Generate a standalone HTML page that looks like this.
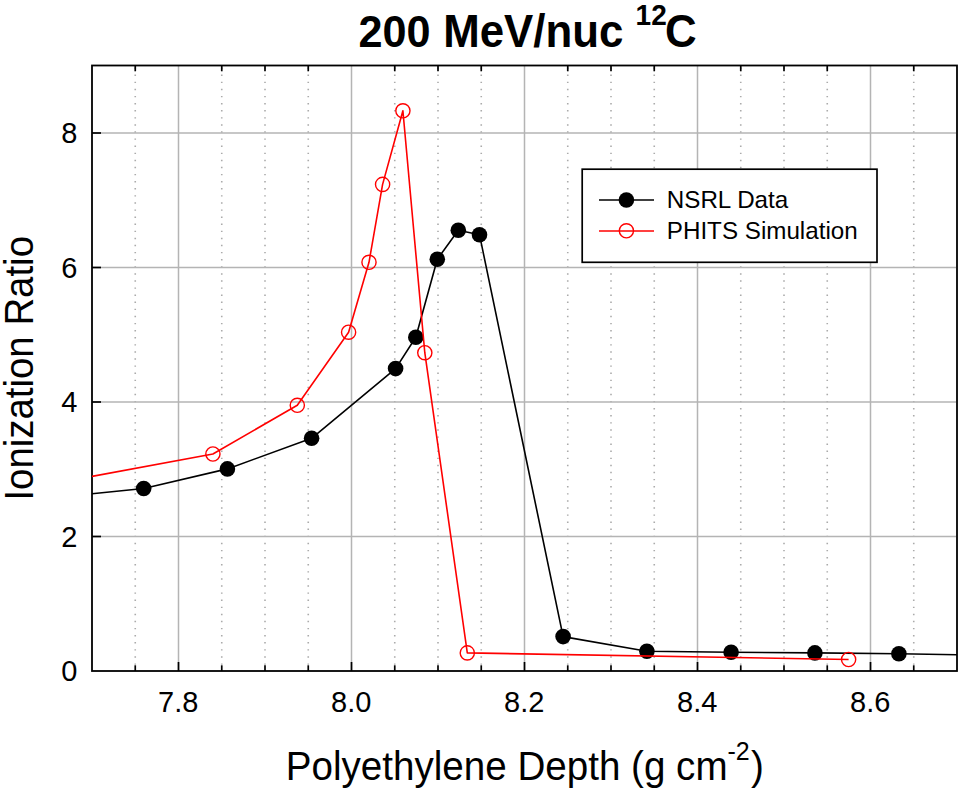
<!DOCTYPE html>
<html><head><meta charset="utf-8"><title>200 MeV/nuc 12C</title>
<style>
html,body{margin:0;padding:0;background:#fff;}
body{width:962px;height:792px;overflow:hidden;}
svg{display:block;}
text{font-family:"Liberation Sans",sans-serif;fill:#000;}
</style></head><body>
<svg width="962" height="792" viewBox="0 0 962 792">
<rect x="0" y="0" width="962" height="792" fill="#fff"/>

<g stroke="#ababab" stroke-width="1.6" stroke-dasharray="1.400 5.694" stroke-dashoffset="-2.006">
<line x1="135.25" y1="65.50" x2="135.25" y2="670"/>
<line x1="221.75" y1="65.50" x2="221.75" y2="670"/>
<line x1="265.00" y1="65.50" x2="265.00" y2="670"/>
<line x1="308.25" y1="65.50" x2="308.25" y2="670"/>
<line x1="394.75" y1="65.50" x2="394.75" y2="670"/>
<line x1="438.00" y1="65.50" x2="438.00" y2="670"/>
<line x1="481.25" y1="65.50" x2="481.25" y2="670"/>
<line x1="567.75" y1="65.50" x2="567.75" y2="670"/>
<line x1="611.00" y1="65.50" x2="611.00" y2="670"/>
<line x1="654.25" y1="65.50" x2="654.25" y2="670"/>
<line x1="740.75" y1="65.50" x2="740.75" y2="670"/>
<line x1="784.00" y1="65.50" x2="784.00" y2="670"/>
<line x1="827.25" y1="65.50" x2="827.25" y2="670"/>
<line x1="913.75" y1="65.50" x2="913.75" y2="670"/>
</g>
<g stroke="#b4b4b4" stroke-width="1.5">
<line x1="178.50" y1="66" x2="178.50" y2="670"/>
<line x1="351.50" y1="66" x2="351.50" y2="670"/>
<line x1="524.50" y1="66" x2="524.50" y2="670"/>
<line x1="697.50" y1="66" x2="697.50" y2="670"/>
<line x1="870.50" y1="66" x2="870.50" y2="670"/>
<line x1="93" y1="536.50" x2="956" y2="536.50"/>
<line x1="93" y1="402.00" x2="956" y2="402.00"/>
<line x1="93" y1="267.50" x2="956" y2="267.50"/>
<line x1="93" y1="133.00" x2="956" y2="133.00"/>
</g>
<g stroke="#000" stroke-width="1.7">
<line x1="178.50" y1="671" x2="178.50" y2="662"/>
<line x1="351.50" y1="671" x2="351.50" y2="662"/>
<line x1="524.50" y1="671" x2="524.50" y2="662"/>
<line x1="697.50" y1="671" x2="697.50" y2="662"/>
<line x1="870.50" y1="671" x2="870.50" y2="662"/>
<line x1="135.25" y1="671" x2="135.25" y2="665.3"/>
<line x1="135.25" y1="65.50" x2="135.25" y2="71.3"/>
<line x1="221.75" y1="671" x2="221.75" y2="665.3"/>
<line x1="221.75" y1="65.50" x2="221.75" y2="71.3"/>
<line x1="265.00" y1="671" x2="265.00" y2="665.3"/>
<line x1="265.00" y1="65.50" x2="265.00" y2="71.3"/>
<line x1="308.25" y1="671" x2="308.25" y2="665.3"/>
<line x1="308.25" y1="65.50" x2="308.25" y2="71.3"/>
<line x1="394.75" y1="671" x2="394.75" y2="665.3"/>
<line x1="394.75" y1="65.50" x2="394.75" y2="71.3"/>
<line x1="438.00" y1="671" x2="438.00" y2="665.3"/>
<line x1="438.00" y1="65.50" x2="438.00" y2="71.3"/>
<line x1="481.25" y1="671" x2="481.25" y2="665.3"/>
<line x1="481.25" y1="65.50" x2="481.25" y2="71.3"/>
<line x1="567.75" y1="671" x2="567.75" y2="665.3"/>
<line x1="567.75" y1="65.50" x2="567.75" y2="71.3"/>
<line x1="611.00" y1="671" x2="611.00" y2="665.3"/>
<line x1="611.00" y1="65.50" x2="611.00" y2="71.3"/>
<line x1="654.25" y1="671" x2="654.25" y2="665.3"/>
<line x1="654.25" y1="65.50" x2="654.25" y2="71.3"/>
<line x1="740.75" y1="671" x2="740.75" y2="665.3"/>
<line x1="740.75" y1="65.50" x2="740.75" y2="71.3"/>
<line x1="784.00" y1="671" x2="784.00" y2="665.3"/>
<line x1="784.00" y1="65.50" x2="784.00" y2="71.3"/>
<line x1="827.25" y1="671" x2="827.25" y2="665.3"/>
<line x1="827.25" y1="65.50" x2="827.25" y2="71.3"/>
<line x1="913.75" y1="671" x2="913.75" y2="665.3"/>
<line x1="913.75" y1="65.50" x2="913.75" y2="71.3"/>
<line x1="92" y1="536.50" x2="101" y2="536.50"/>
<line x1="92" y1="402.00" x2="101" y2="402.00"/>
<line x1="92" y1="267.50" x2="101" y2="267.50"/>
<line x1="92" y1="133.00" x2="101" y2="133.00"/>
</g>
<rect x="92" y="65.50" width="865" height="605.50" fill="none" stroke="#000" stroke-width="1.8"/>
<defs><clipPath id="c"><rect x="92" y="65.50" width="865" height="605.50"/></clipPath></defs>
<g clip-path="url(#c)">
<polyline fill="none" stroke="#000" stroke-width="1.6" stroke-linejoin="round" shape-rendering="auto" points="92.0,493.8 143.7,488.5 227.4,468.9 311.6,438.3 395.6,368.6 415.8,337.3 437.3,259.3 458.3,230.3 479.5,234.7 563.1,636.6 646.9,651.3 731.1,652.2 814.9,652.9 898.9,653.8 957.0,654.8"/>
<circle cx="143.7" cy="488.5" r="7.8" fill="#000"/>
<circle cx="227.4" cy="468.9" r="7.8" fill="#000"/>
<circle cx="311.6" cy="438.3" r="7.8" fill="#000"/>
<circle cx="395.6" cy="368.6" r="7.8" fill="#000"/>
<circle cx="415.8" cy="337.3" r="7.8" fill="#000"/>
<circle cx="437.3" cy="259.3" r="7.8" fill="#000"/>
<circle cx="458.3" cy="230.3" r="7.8" fill="#000"/>
<circle cx="479.5" cy="234.7" r="7.8" fill="#000"/>
<circle cx="563.1" cy="636.6" r="7.8" fill="#000"/>
<circle cx="646.9" cy="651.3" r="7.8" fill="#000"/>
<circle cx="731.1" cy="652.2" r="7.8" fill="#000"/>
<circle cx="814.9" cy="652.9" r="7.8" fill="#000"/>
<circle cx="898.9" cy="653.8" r="7.8" fill="#000"/>
<polyline fill="none" stroke="#f00" stroke-width="1.6" stroke-linejoin="round" shape-rendering="auto" points="92.0,476.4 212.9,454.0 297.3,405.3 348.6,332.2 369.0,262.3 382.6,184.4 402.9,110.8 424.8,352.7 467.3,652.9 848.6,659.5"/>
<circle cx="212.9" cy="454.0" r="7.1" fill="none" stroke="#f00" stroke-width="1.4"/>
<circle cx="297.3" cy="405.3" r="7.1" fill="none" stroke="#f00" stroke-width="1.4"/>
<circle cx="348.6" cy="332.2" r="7.1" fill="none" stroke="#f00" stroke-width="1.4"/>
<circle cx="369.0" cy="262.3" r="7.1" fill="none" stroke="#f00" stroke-width="1.4"/>
<circle cx="382.6" cy="184.4" r="7.1" fill="none" stroke="#f00" stroke-width="1.4"/>
<circle cx="402.9" cy="110.8" r="7.1" fill="none" stroke="#f00" stroke-width="1.4"/>
<circle cx="424.8" cy="352.7" r="7.1" fill="none" stroke="#f00" stroke-width="1.4"/>
<circle cx="467.3" cy="652.9" r="7.1" fill="none" stroke="#f00" stroke-width="1.4"/>
<circle cx="848.6" cy="659.5" r="7.1" fill="none" stroke="#f00" stroke-width="1.4"/>
</g>
<rect x="582.2" y="169.2" width="294.8" height="93.1" fill="#fff" stroke="#000" stroke-width="1.7"/>
<line x1="599" y1="200" x2="654" y2="200" stroke="#000" stroke-width="1.6"/>
<circle cx="626.4" cy="200" r="7.8" fill="#000"/>
<line x1="599" y1="231" x2="654" y2="231" stroke="#f00" stroke-width="1.6"/>
<circle cx="626.4" cy="230.8" r="7.1" fill="none" stroke="#f00" stroke-width="1.4"/>
<text transform="translate(666.80,207.80) scale(1,1.000)" font-size="24.2">NSRL Data</text>
<text transform="translate(666.80,238.90) scale(1,1.000)" font-size="24.2">PHITS Simulation</text>
<text transform="translate(178.20,711.60) scale(1,1.040)" font-size="29" text-anchor="middle">7.8</text>
<text transform="translate(351.20,711.60) scale(1,1.040)" font-size="29" text-anchor="middle">8.0</text>
<text transform="translate(524.20,711.60) scale(1,1.040)" font-size="29" text-anchor="middle">8.2</text>
<text transform="translate(697.20,711.60) scale(1,1.040)" font-size="29" text-anchor="middle">8.4</text>
<text transform="translate(870.20,711.60) scale(1,1.040)" font-size="29" text-anchor="middle">8.6</text>
<text transform="translate(77.50,681.20) scale(1,1.040)" font-size="29" text-anchor="end">0</text>
<text transform="translate(77.50,546.70) scale(1,1.040)" font-size="29" text-anchor="end">2</text>
<text transform="translate(77.50,412.20) scale(1,1.040)" font-size="29" text-anchor="end">4</text>
<text transform="translate(77.50,277.70) scale(1,1.040)" font-size="29" text-anchor="end">6</text>
<text transform="translate(77.50,143.20) scale(1,1.040)" font-size="29" text-anchor="end">8</text>
<text transform="translate(524.80,779.80) scale(1,1.040)" font-size="38.6" text-anchor="middle">Polyethylene Depth (g cm<tspan font-size="25" dy="-19">-2</tspan><tspan dy="19" dx="1.2">)</tspan></text>
<text transform="translate(32.5,368.3) rotate(-90) scale(1,1.040)" font-size="38.4" text-anchor="middle">Ionization Ratio</text>
<text transform="translate(358.50,46.50) scale(1,1.040)" font-size="43.2" font-weight="bold">200</text>
<text transform="translate(443.20,46.50) scale(1,1.040)" font-size="43.85" font-weight="bold">MeV/nuc</text>
<text transform="translate(635.60,24.90) scale(1,1.040)" font-size="28" font-weight="bold">12</text>
<text transform="translate(665.00,46.50) scale(1,1.040)" font-size="43.85" font-weight="bold">C</text>
</svg>
</body></html>
